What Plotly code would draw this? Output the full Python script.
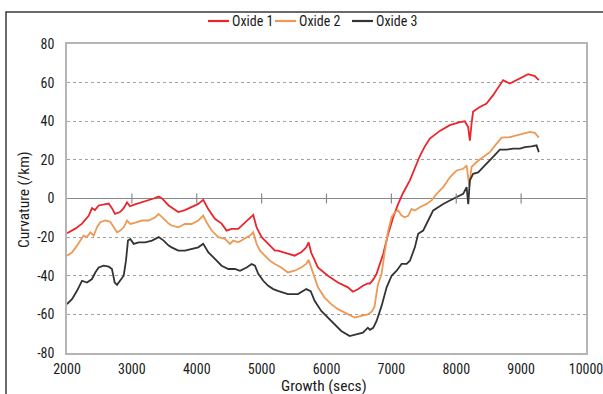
import plotly.graph_objects as go

# ---- data ----
ox1_t = [2000, 2128, 2231, 2334, 2385, 2431, 2488, 2565, 2643, 2693, 2740, 2817, 2874, 2925, 2971,
         3048, 3156, 3259, 3336, 3413, 3464, 3567, 3715, 3818, 3921, 4023, 4100, 4177, 4280, 4383,
         4460, 4537, 4639, 4743, 4846, 4871, 4923, 5000, 5102, 5205, 5251, 5405, 5508, 5610, 5687,
         5724, 5764, 5867, 6022, 6176, 6330, 6407, 6484, 6561, 6638, 6669, 6720, 6772, 6874, 6951,
         7028, 7105, 7182, 7285, 7362, 7439, 7516, 7593, 7747, 7901, 8055, 8133, 8183, 8210, 8236,
         8260, 8364, 8467, 8568, 8672, 8723, 8826, 8929, 9031, 9108, 9211, 9273]
ox1_v = [-18, -15.6, -13, -9, -5, -6, -3.6, -3, -2.6, -5, -8, -7, -5, -2, -4,
         -3, -2, -1, 0, 1, 0, -3.6, -7, -6, -4.5, -2.8, -0.7, -5.4, -10.5, -13,
         -16.6, -15.7, -15.7, -12.3, -8.8, -8.5, -15, -20, -23.5, -27, -27, -28.7, -29.6, -27.9, -25.3,
         -22.7, -28, -35.7, -40, -43.5, -46, -48.3, -47, -45.2, -44, -44, -42, -39, -28.7, -18.3,
         -9.7, -2.8, 3, 9.4, 16, 22, 27, 31, 35, 38, 39.6, 40, 37, 30, 38.8,
         45, 47.4, 49.2, 53.5, 58.7, 61.3, 59.5, 61.3, 63, 64.4, 63.4, 61.3]

ox2_t = [2000, 2077, 2154, 2205, 2257, 2308, 2359, 2411, 2462, 2513, 2590, 2667, 2720, 2771, 2821,
         2874, 2925, 2976, 3053, 3156, 3259, 3361, 3413, 3464, 3567, 3613, 3715, 3818, 3921, 4023,
         4100, 4151, 4230, 4332, 4435, 4512, 4563, 4639, 4743, 4820, 4871, 4923, 4974, 5051, 5128,
         5205, 5302, 5405, 5508, 5610, 5687, 5724, 5791, 5868, 5971, 6073, 6176, 6330, 6434, 6535,
         6638, 6700, 6740, 6790, 6849, 6900, 6951, 7003, 7054, 7105, 7157, 7208, 7259, 7311, 7362,
         7439, 7542, 7619, 7697, 7799, 7902, 8005, 8107, 8160, 8185, 8200, 8236, 8313, 8415, 8519,
         8622, 8699, 8827, 8930, 9031, 9135, 9212, 9273]
ox2_v = [-29.6, -28, -24.4, -21.8, -19.2, -20, -17.5, -19.2, -14.9, -12.3, -11.4, -12, -14.9, -17.5, -16.6,
         -14.9, -11.4, -13.2, -12.5, -11.4, -11.4, -9.7, -8, -9.7, -13, -14, -14.9, -13.2, -13.2, -11.4,
         -8.8, -12.3, -16.6, -20, -20.9, -23.5, -21.8, -22.7, -20.9, -19.2, -17.5, -23.5, -27, -29.6, -32.2,
         -33.9, -35.7, -38.3, -37.4, -35.7, -33.9, -31.8, -39, -46, -51.3, -54.7, -57.3, -60, -61.7, -60.8,
         -60, -58.5, -56, -45, -39, -27, -16.6, -9.7, -7.1, -6.2, -8.8, -9.7, -9, -5.4, -6.2,
         -4.5, -2.8, -1, 2.4, 5.9, 11, 14.5, 15.4, 17.2, 11, 6.5, 16.3, 18.9, 21.5, 24,
         28.4, 31.5, 31.8, 32.7, 33.6, 34.5, 34, 31.5]

ox3_t = [2000, 2077, 2154, 2231, 2308, 2385, 2436, 2488, 2565, 2643, 2693, 2735, 2771, 2821, 2874,
         2909, 2940, 2976, 3028, 3105, 3207, 3310, 3413, 3490, 3567, 3613, 3715, 3818, 3921, 4023,
         4100, 4177, 4280, 4383, 4486, 4589, 4666, 4769, 4846, 4897, 4948, 5025, 5102, 5179, 5251,
         5405, 5560, 5637, 5688, 5756, 5817, 5919, 6022, 6125, 6227, 6357, 6458, 6561, 6638, 6669,
         6720, 6772, 6849, 6927, 7004, 7081, 7158, 7235, 7286, 7362, 7413, 7490, 7567, 7645, 7722,
         7799, 7902, 8005, 8107, 8160, 8185, 8210, 8260, 8338, 8364, 8467, 8568, 8672, 8775, 8878,
         8981, 9058, 9161, 9238, 9273]
ox3_v = [-54.7, -52.1, -47.8, -42.6, -43.5, -41.7, -38.3, -35.7, -34.8, -35.3, -36.5, -43.5, -44.7, -42.6, -40,
         -32.2, -21.8, -21, -23.5, -22.7, -22.7, -21.8, -20, -21.8, -24.4, -25.3, -27, -27, -26.1, -25.3,
         -23.5, -27.8, -31.3, -34.8, -36.5, -36.5, -37.4, -35.7, -33.9, -34.8, -39, -42.6, -45.2, -46.9, -47.8,
         -49.5, -49.5, -47.8, -46.9, -48, -53, -58.2, -61.7, -65.1, -68.6, -71.2, -70.3, -69.5, -66.9, -68,
         -67, -63.4, -55.6, -46, -40, -37.4, -33.9, -33.9, -32.2, -25.3, -18.3, -16.6, -11.4, -6.2, -4.5,
         -2.8, -1, 0.7, 2.4, 5.9, -3, 9.4, 12.8, 13.5, 14.5, 18, 21.5, 25.3, 25.3, 25.8,
         25.8, 26.6, 27, 27.5, 24]

series_names = ["Oxide 1", "Oxide 2", "Oxide 3"]
x_ticks = [2000, 3000, 4000, 5000, 6000, 7000, 8000, 9000, 10000]
y_ticks = [-80, -60, -40, -20, 0, 20, 40, 60, 80]
zero_ticks = [3000, 4000, 5000, 6000, 7000, 8000, 9000]
x_title = "Growth (secs)"
y_title = "Curvature (/km)"

FONT = "Roboto Condensed, Liberation Sans Narrow, sans-serif"
colors = ["#e8262c", "#ec9a55", "#333333"]
TXT = "#1a1a1a"

W, H = 603, 394
ML, MR, MT, MB = 67, 17, 44, 41
PW, PH = W - ML - MR, H - MT - MB


def px_x(p):
    return (p - ML) / PW


def px_y(p):
    return (H - MB - p) / PH


fig = go.Figure()
for t, v, name, c in zip([ox1_t, ox2_t, ox3_t], [ox1_v, ox2_v, ox3_v], series_names, colors):
    fig.add_trace(go.Scatter(x=t, y=v, mode="lines", name=name,
                             line=dict(color=c, width=1.8)))

# tick marks crossing the zero (horizontal) axis
fig.add_trace(go.Scatter(x=zero_ticks, y=[0] * len(zero_ticks), mode="markers",
                         marker=dict(symbol="line-ns", size=7, color="#8a8a8a",
                                     line=dict(color="#8a8a8a", width=1.2)),
                         showlegend=False, hoverinfo="skip"))

# outer frame
shapes = [dict(type="rect", xref="paper", yref="paper",
               x0=px_x(6), x1=px_x(625), y0=px_y(430), y1=px_y(12),
               line=dict(color="#3a3a3a", width=1.5), layer="above")]
annotations = []

# compact legend (line sample + label), laid out like the original
leg_y = px_y(21)
leg_starts = [208, 275, 352]
for name, c, x0 in zip(series_names, colors, leg_starts):
    shapes.append(dict(type="line", xref="paper", yref="paper",
                       x0=px_x(x0), x1=px_x(x0 + 21), y0=leg_y, y1=leg_y,
                       line=dict(color=c, width=2.2)))
    annotations.append(dict(xref="paper", yref="paper", x=px_x(x0 + 22), y=leg_y,
                            xanchor="left", yanchor="middle", showarrow=False,
                            text=name, font=dict(family=FONT, size=14, color=TXT)))

# axis titles
annotations.append(dict(xref="paper", yref="paper", x=px_x(24), y=px_y(200),
                        xanchor="center", yanchor="middle", textangle=-90, showarrow=False,
                        text=y_title, font=dict(family=FONT, size=15.5, color=TXT)))
annotations.append(dict(xref="paper", yref="paper", x=px_x(324), y=px_y(386),
                        xanchor="center", yanchor="middle", showarrow=False,
                        text=x_title, font=dict(family=FONT, size=15.5, color=TXT)))

fig.update_layout(
    width=W, height=H,
    margin=dict(l=ML, r=MR, t=MT, b=MB, autoexpand=False),
    paper_bgcolor="white", plot_bgcolor="white",
    font=dict(family=FONT, size=14, color=TXT),
    showlegend=False,
    xaxis=dict(range=[2000, 10000], tickvals=x_ticks, ticktext=[str(v) for v in x_ticks],
               showgrid=False, zeroline=False, automargin=False,
               showline=True, mirror=True, linecolor="#b5b5b5", linewidth=1.5,
               ticks="", ticklabelstandoff=2, ticklabeloverflow="allow",
               tickfont=dict(family=FONT, size=14, color=TXT)),
    yaxis=dict(range=[-80, 80], tickvals=y_ticks, ticktext=[str(v) for v in y_ticks],
               showgrid=True, gridcolor="#a0a0a0", gridwidth=1, griddash="dot",
               zeroline=True, zerolinecolor="#8a8a8a", zerolinewidth=1.3, automargin=False,
               showline=True, mirror=True, linecolor="#b5b5b5", linewidth=1.5,
               ticks="", ticklabelstandoff=8,
               tickfont=dict(family=FONT, size=14, color=TXT)),
    shapes=shapes,
    annotations=annotations,
)

fig.write_html("out.html", config={"displayModeBar": False},
               post_script="document.body.style.margin='0';document.body.style.overflow='hidden';")
